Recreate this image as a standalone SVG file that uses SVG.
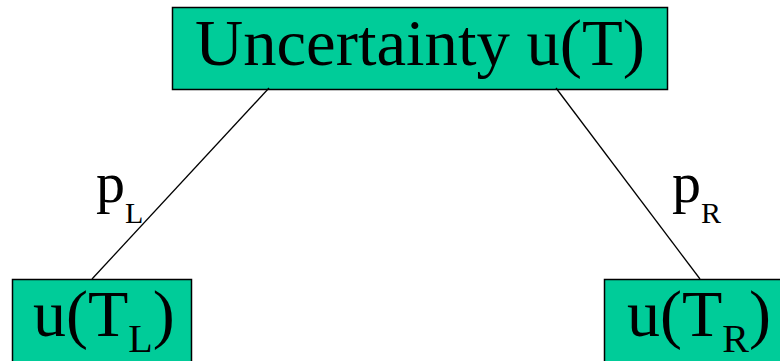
<svg xmlns="http://www.w3.org/2000/svg" width="780" height="361" viewBox="0 0 780 361">
<style>
.box{fill:#00cc99;stroke:#000;stroke-width:1.5}
.t{font-family:"Liberation Serif","Times New Roman",serif;fill:#000}
.conn line{stroke:#000;stroke-width:1.3}
</style>
<rect width="780" height="361" fill="#fff"/>
<g id="root">
<rect class="box" x="172.5" y="7.5" width="495" height="82"/>
<text class="t" x="420" y="65" font-size="66" text-anchor="middle" textLength="450" lengthAdjust="spacingAndGlyphs">Uncertainty u(T)</text>
</g>
<g id="left">
<rect class="box" x="12.5" y="279.5" width="179" height="90"/>
<text class="t" x="33" y="336" font-size="66">u(T<tspan font-size="40" dy="16">L</tspan><tspan dy="-16">)</tspan></text>
</g>
<g id="right">
<rect class="box" x="604.5" y="279.5" width="190" height="90"/>
<text class="t" x="627" y="336" font-size="66">u(T<tspan font-size="40" dy="16">R</tspan><tspan dy="-16">)</tspan></text>
</g>
<g class="conn" id="connectors">
<line x1="269" y1="88" x2="92" y2="279"/>
<line x1="556" y1="88" x2="700" y2="279"/>
</g>
<g id="labels">
<text class="t" x="96" y="202" font-size="58">p<tspan font-size="30" dy="21">L</tspan></text>
<text class="t" x="672" y="202" font-size="58">p<tspan font-size="30" dy="21">R</tspan></text>
</g>
</svg>
